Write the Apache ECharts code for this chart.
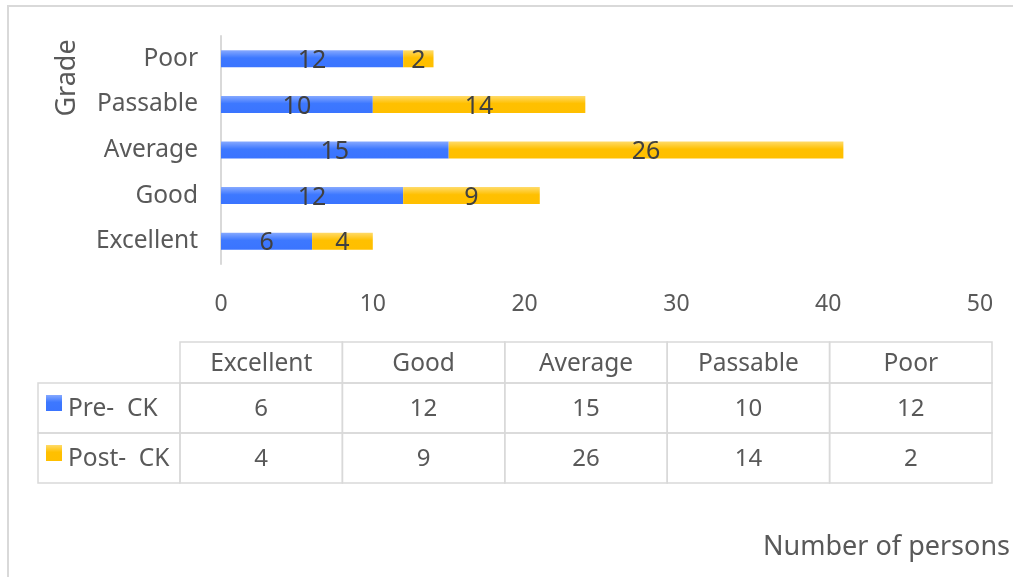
<!DOCTYPE html>
<html>
<head>
<meta charset="utf-8">
<script src="https://cdn.jsdelivr.net/npm/echarts@6/dist/echarts.min.js"></script>
<style>html,body{margin:0;padding:0;background:#fff;}#c{width:1013px;height:577px;}</style>
</head>
<body>
<div id="c"></div>
<script>
var categories = ['Excellent', 'Good', 'Average', 'Passable', 'Poor'];
var preCK = [6, 12, 15, 10, 12];
var postCK = [4, 9, 26, 14, 2];
var seriesNames = ['Pre-  CK', 'Post-  CK'];
var xTicks = [0, 10, 20, 30, 40, 50];
var yAxisTitle = 'Grade';
var xAxisTitle = 'Number of persons';

var FONT = '"Noto Sans", "Open Sans", sans-serif';
var blueGrad = new echarts.graphic.LinearGradient(0, 0, 0, 1, [
  {offset: 0, color: '#86a9ff'}, {offset: 0.45, color: '#3d78ff'}, {offset: 1, color: '#3a74ff'}]);
var yellowGrad = new echarts.graphic.LinearGradient(0, 0, 0, 1, [
  {offset: 0, color: '#ffdb6a'}, {offset: 0.45, color: '#ffc000'}, {offset: 1, color: '#ffbf00'}]);
var grads = [blueGrad, yellowGrad];
var values = [preCK, postCK];

// table geometry
var tblLeft = 180, colW = 162.4, hdrTop = 342, hdrH = 41, rowH = 50, legLeft = 38;
var lineColor = '#d9d9d9';
var graphics = [];
graphics.push({type: 'rect', shape: {x: 8, y: 6, width: 1100, height: 700}, style: {fill: null, stroke: '#d9d9d9', lineWidth: 2}, silent: true});
categories.forEach(function (c, i) {
  var x = tblLeft + i * colW;
  graphics.push({type: 'rect', shape: {x: x, y: hdrTop, width: colW, height: hdrH}, style: {fill: null, stroke: lineColor, lineWidth: 1.5}});
  graphics.push({type: 'text', x: x + colW / 2, y: hdrTop + hdrH / 2 + 2, style: {text: c, font: '24.5px ' + FONT, fill: '#595959', textAlign: 'center', textVerticalAlign: 'middle'}});
});
values.forEach(function (arr, r) {
  var y = hdrTop + hdrH + r * rowH;
  graphics.push({type: 'rect', shape: {x: legLeft, y: y, width: tblLeft - legLeft, height: rowH}, style: {fill: null, stroke: lineColor, lineWidth: 1.5}});
  graphics.push({type: 'rect', shape: {x: 46, y: y + 12, width: 16, height: 16}, style: {fill: grads[r]}});
  graphics.push({type: 'text', x: 68, y: y + rowH / 2 + 1, style: {text: seriesNames[r], font: '24.5px ' + FONT, fill: '#595959', textAlign: 'left', textVerticalAlign: 'middle'}});
  arr.forEach(function (v, i) {
    var x = tblLeft + i * colW;
    graphics.push({type: 'rect', shape: {x: x, y: y, width: colW, height: rowH}, style: {fill: null, stroke: lineColor, lineWidth: 1.5}});
    graphics.push({type: 'text', x: x + colW / 2, y: y + rowH / 2 + 1, style: {text: String(v), font: '24px ' + FONT, fill: '#595959', textAlign: 'center', textVerticalAlign: 'middle'}});
  });
});
graphics.push({type: 'text', x: 67, y: 78, rotation: Math.PI / 2, style: {text: yAxisTitle, font: '27px ' + FONT, fill: '#595959', textAlign: 'center', textVerticalAlign: 'middle'}});
graphics.push({type: 'text', x: 1010, y: 547, style: {text: xAxisTitle, font: '27px ' + FONT, fill: '#595959', textAlign: 'right', textVerticalAlign: 'middle'}});

var chart = echarts.init(document.getElementById('c'), null, {renderer: 'canvas'});
chart.setOption({
  animation: false,
  backgroundColor: '#fff',
  grid: {left: 221, right: 33, top: 36, bottom: 313, containLabel: false},
  xAxis: {
    type: 'value', min: xTicks[0], max: xTicks[xTicks.length - 1], interval: 10,
    axisLine: {show: false}, axisTick: {show: false}, splitLine: {show: false},
    axisLabel: {margin: 29, color: '#595959', fontSize: 23, fontFamily: FONT,
      formatter: function (v) { return xTicks.indexOf(v) >= 0 ? String(v) : ''; }}
  },
  yAxis: {
    type: 'category', data: categories,
    axisLine: {show: true, lineStyle: {color: '#d9d9d9', width: 2}},
    axisTick: {show: false},
    axisLabel: {margin: 23, color: '#595959', fontSize: 24.5, fontFamily: FONT, padding: [4, 0, 0, 0]}
  },
  series: values.map(function (arr, r) {
    return {
      type: 'bar', name: seriesNames[r], stack: 'total', data: arr, barWidth: 17,
      itemStyle: {color: grads[r]},
      label: {show: true, position: 'inside', color: '#404040', fontSize: 25, fontFamily: FONT, offset: [0, 2]}
    };
  }),
  graphic: graphics
});
</script>
</body>
</html>
